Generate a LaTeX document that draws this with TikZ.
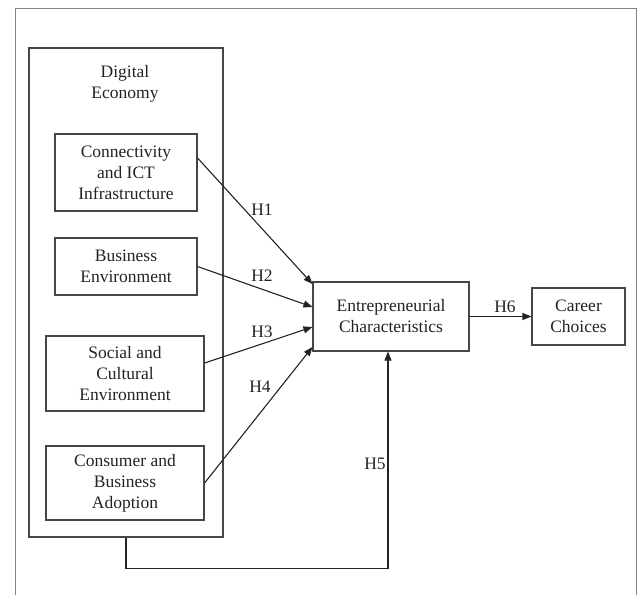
\documentclass[tikz,border=0pt]{standalone}
\usepackage{fontspec}
\setmainfont{Liberation Serif}
\usetikzlibrary{arrows.meta}
\definecolor{ink}{RGB}{35,35,35}
\definecolor{frame}{RGB}{130,130,130}
\definecolor{boxline}{RGB}{70,70,70}
\tikzset{
  box/.style={draw=boxline, line width=1.1pt, align=center, inner sep=0pt, text=ink,
    font=\fontsize{17.5}{21}\selectfont},
  lbl/.style={text=ink, inner sep=0pt, font=\fontsize{17.5}{21}\selectfont},
  arr/.style={draw=ink, line width=1.1pt, -{Triangle[length=9pt,width=7pt]}},
}
\begin{document}
\begin{tikzpicture}[x=1pt,y=-1pt]
\useasboundingbox (0,0) rectangle (643,595);
\draw[frame, line width=1pt] (15,595) -- (15,8) -- (636,8) -- (636,595);

\node[box, minimum width=194pt, minimum height=489pt] (cont) at (126,292.5) {};
\node[lbl, align=center] (dig) at (125,83.5) {Digital\\Economy};

\node[box, minimum width=142pt, minimum height=77pt] (conn) at (126,172.5) {Connectivity\\and ICT\\Infrastructure};
\node[box, minimum width=142pt, minimum height=57pt] (bus) at (126,266.5) {Business\\Environment};
\node[box, minimum width=158pt, minimum height=75pt] (soc) at (125,373.5) {Social and\\Cultural\\Environment};
\node[box, minimum width=158pt, minimum height=74pt] (cons) at (125,483) {Consumer and\\Business\\Adoption};

\node[box, minimum width=156pt, minimum height=69pt] (ent) at (391,316.5) {Entrepreneurial\\Characteristics};
\node[box, minimum width=93pt, minimum height=57pt] (car) at (578.5,316.5) {Career\\Choices};

\draw[arr] ([yshift=14.5pt]conn.east) -- ([yshift=32.5pt]ent.west);
\draw[arr] (bus.east) -- ([yshift=9.5pt]ent.west);
\draw[arr] ([yshift=10.5pt]soc.east) -- ([yshift=-10.5pt]ent.west);
\draw[arr] (cons.east) -- ([yshift=-30.5pt]ent.west);
\draw[arr] (cont.south) -- ++(0,31) -| ([xshift=-3pt]ent.south);
\draw[arr] (ent.east) -- (car.west);

\node[lbl] (h1) at (262,210) {H1};
\node[lbl] (h2) at (262,276) {H2};
\node[lbl] (h3) at (262,332) {H3};
\node[lbl] (h4) at (260,387) {H4};
\node[lbl] (h5) at (375,464) {H5};
\node[lbl] (h6) at (505,307) {H6};
\end{tikzpicture}
\end{document}
